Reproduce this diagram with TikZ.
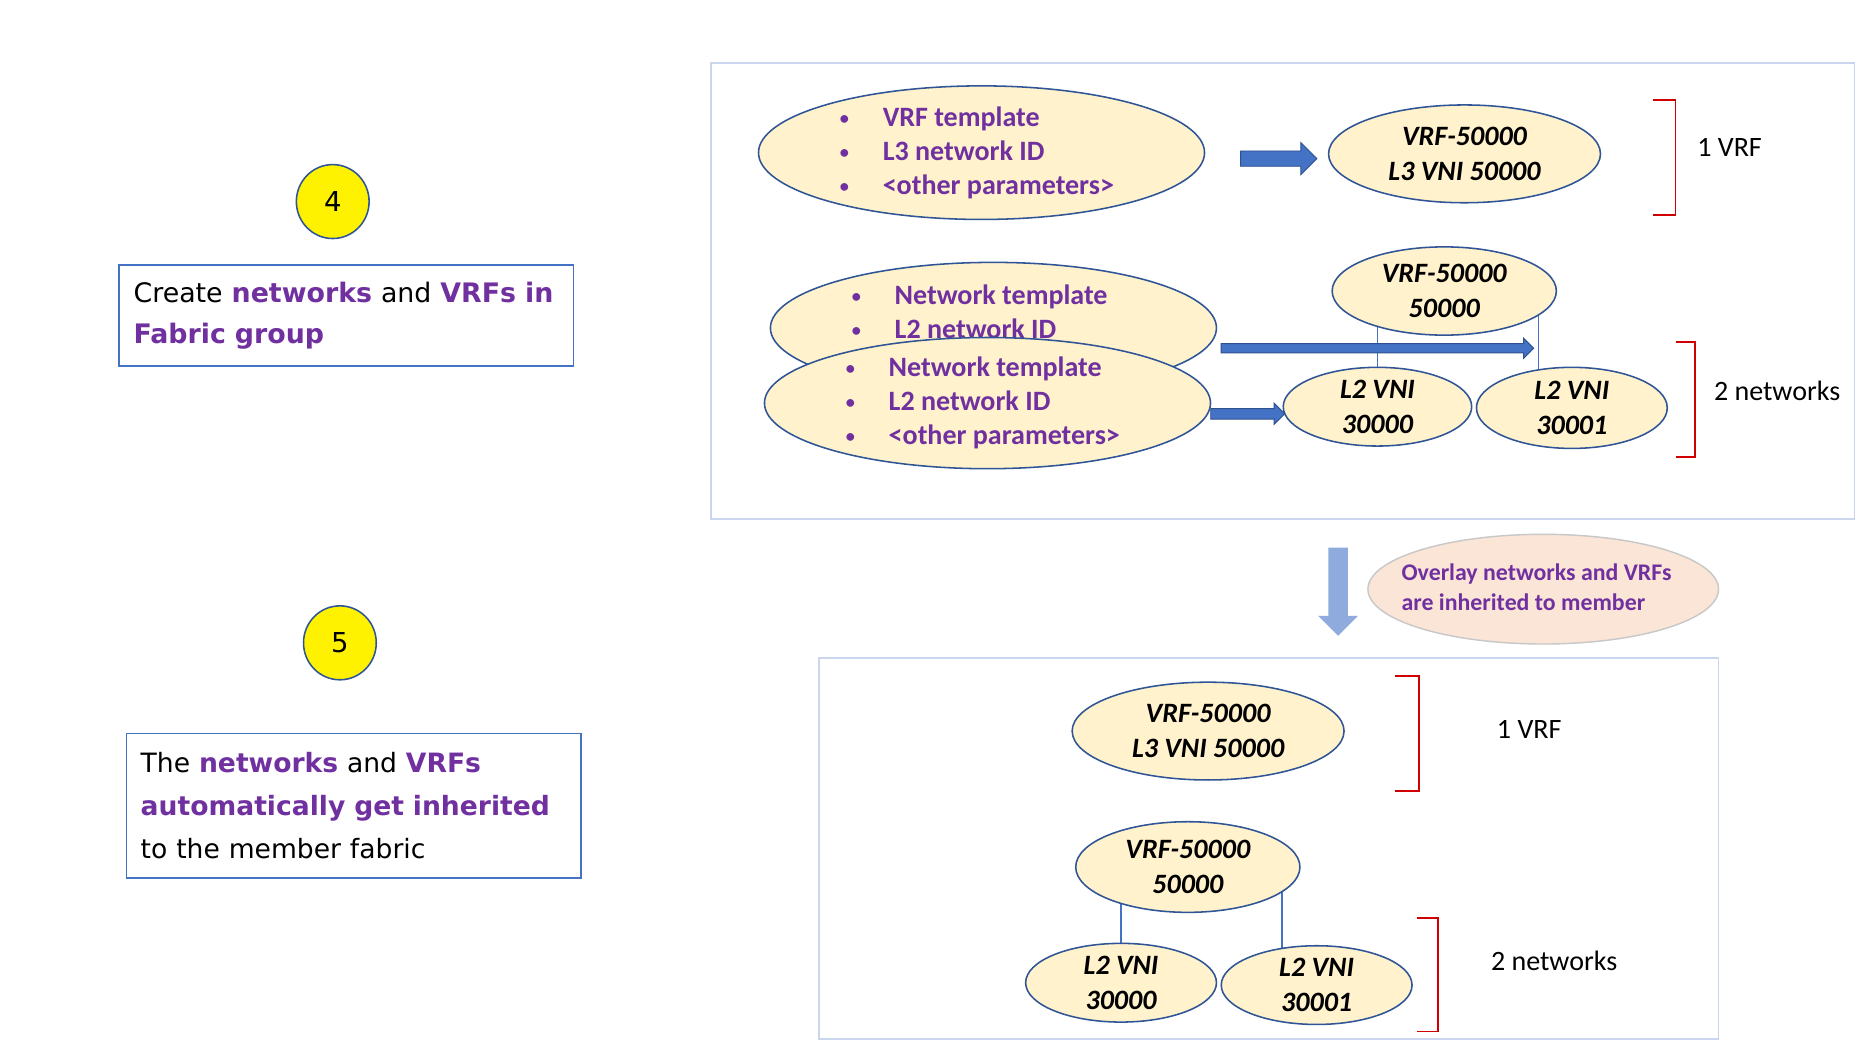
\documentclass[tikz,border=0pt]{standalone}
\usepackage{fontspec}
\setmainfont{Carlito}
\newfontfamily\verd{DejaVu Sans}
\usetikzlibrary{shapes.geometric,shapes.arrows,backgrounds}
\definecolor{purp}{HTML}{7030A0}
\definecolor{cream}{HTML}{FFF2CC}
\definecolor{edge}{HTML}{2F5597}
\definecolor{boxblue}{HTML}{4472C4}
\definecolor{frameblue}{HTML}{C9D6EE}
\definecolor{arrowedge}{HTML}{2F528F}
\definecolor{downblue}{HTML}{8FAADC}
\definecolor{pinkfill}{HTML}{FBE5D6}
\definecolor{pinkedge}{HTML}{C8C8C8}
\definecolor{brred}{HTML}{D00000}
\newcommand{\bul}{\makebox[38pt][l]{\hspace{2pt}\raisebox{1.5pt}{\scalebox{0.65}{\textbullet}}}}
\begin{document}
\begin{tikzpicture}[x=1pt,y=-1pt,
  oval/.style 2 args={ellipse, draw=edge, fill=cream, line width=1.3pt, inner sep=0pt, minimum width=#1, minimum height=#2},
  ovaltext/.style={align=center, inner sep=0pt, font=\bfseries\itshape\fontsize{23.5}{29}\selectfont},
  bullettext/.style={align=left, anchor=west, inner sep=0pt, text=purp, font=\bfseries\fontsize{23.5}{28.5}\selectfont},
  stepbox/.style={draw=boxblue, line width=1.4pt, align=left, inner xsep=12pt, inner ysep=0pt},
  stepnum/.style={ellipse, draw=edge, fill=yellow, line width=1.3pt, inner sep=0pt, minimum width=61pt, minimum height=62pt, font=\verd\fontsize{23}{27}\selectfont},
  frame/.style={draw=frameblue, line width=1.4pt, inner sep=0pt},
  blockarrow/.style={single arrow, fill=boxblue, draw=arrowedge, line width=0.8pt, inner xsep=0pt, single arrow head indent=0pt},
  link/.style={draw=boxblue, line width=1pt},
  bracket/.style={draw=brred, line width=1.4pt},
  note/.style={font=\fontsize{23.5}{28}\selectfont, inner sep=0pt}
]
\useasboundingbox (0,0) rectangle (1568,878.8);
\begin{scope}[on background layer]
\fill[white] (0,0) rectangle (1568,878.8);
\end{scope}

% ---- left column ----
\node[stepnum] (n4) at (279,169) {4};
\node[stepbox, minimum width=381pt, minimum height=85pt, text width=357pt,
      font=\verd\fontsize{22.5}{34}\selectfont] (t4) at (290.5,264.5)
  {Create \textcolor{purp}{\bfseries networks} and \textcolor{purp}{\bfseries VRFs in}\\
   \textcolor{purp}{\bfseries Fabric group}};
\node[stepnum] (n5) at (285,539) {5};
\node[stepbox, minimum width=381pt, minimum height=121pt, text width=357pt,
      font=\verd\fontsize{22.3}{36}\selectfont] (t5) at (296.5,675.5)
  {The \textcolor{purp}{\bfseries networks} and \textcolor{purp}{\bfseries VRFs}\\
   \textcolor{purp}{\bfseries automatically get inherited}\\
   to the member fabric};

% ---- fabric group frame ----
\node[frame, minimum width=959pt, minimum height=382pt] (fg) at (1075.5,244) {};

\node[oval={374pt}{112pt}] (vrft) at (823,128) {};
\node[bullettext] (vrftx) at (702,128)
  {\bul VRF template\\
   \bul L3 network ID\\
   \bul <other parameters>};
\node[oval={228pt}{82pt}] (vrf1) at (1228,129) {};
\node[ovaltext] (vrf1x) at (vrf1) {VRF-50000\\L3 VNI 50000};
\node[blockarrow, minimum height=64pt, inner ysep=6pt, single arrow head extend=7pt] (a1) at (1069,133) {};

\node[oval={374pt}{110pt}] (netb) at (833,275) {};
\node[bullettext] (netbx) at (712,261)
  {\bul Network template\\
   \bul L2 network ID};
\node[oval={374pt}{110pt}] (netf) at (828,338) {};
\node[bullettext] (netfx) at (707,338)
  {\bul Network template\\
   \bul L2 network ID\\
   \bul <other parameters>};

\node[oval={188pt}{74pt}] (vrf2) at (1211,244) {};
\node[ovaltext] (vrf2x) at (vrf2) {VRF-50000\\50000};
\node[oval={158pt}{66pt}] (l2a) at (1155,341) {};
\node[ovaltext] (l2ax) at (l2a) {L2 VNI\\30000};
\node[oval={160pt}{68pt}] (l2b) at (1318,342) {};
\node[ovaltext] (l2bx) at (l2b) {L2 VNI\\30001};
\begin{scope}[on background layer]
\draw[link] (l2a.center) -- (l2a.center |- vrf2.center);
\draw[link] ([xshift=-28pt]l2b.center) -- ([xshift=-28pt]l2b.center |- vrf2.center);
\end{scope}
\node[blockarrow, minimum height=262pt, inner ysep=3.5pt, single arrow head extend=4.5pt] (a2) at (1153,292) {};
\node[blockarrow, minimum height=62pt, inner ysep=4pt, single arrow head extend=4.5pt] (a3) at (1044,347) {};

\draw[bracket] (1386,84) -- (1405,84) -- (1405,180) -- (1386,180);
\node[note, anchor=west] (lab1) at (1423,124) {1 VRF};
\draw[bracket] (1405,287) -- (1421,287) -- (1421,383) -- (1405,383);
\node[note, anchor=west] (lab2) at (1437,328) {2 networks};

% ---- inheritance ----
\node[single arrow, rotate=-90, fill=downblue, draw=none, inner xsep=0pt, inner ysep=8pt,
      single arrow head indent=0pt, minimum height=74pt,
      single arrow head extend=8.5pt] (down) at (1122,492) {};
\node[ellipse, fill=pinkfill, draw=pinkedge, line width=1.2pt, inner sep=0pt,
      minimum width=294pt, minimum height=92pt] (pk) at (1294,494) {};
\node[align=left, anchor=west, inner sep=0pt, text=purp, font=\bfseries\fontsize{20}{25}\selectfont]
  (pkx) at (1175,492.5) {Overlay networks and VRFs\\are inherited to member};

% ---- member fabric frame ----
\node[frame, minimum width=754pt, minimum height=319pt] (mf) at (1064,711.5) {};
\node[oval={228pt}{82pt}] (vrf3) at (1013,613) {};
\node[ovaltext] (vrf3x) at (vrf3) {VRF-50000\\L3 VNI 50000};
\node[oval={188pt}{76pt}] (vrf4) at (996,727) {};
\node[ovaltext] (vrf4x) at (vrf4) {VRF-50000\\50000};
\node[oval={160pt}{66pt}] (l2c) at (940,824) {};
\node[ovaltext] (l2cx) at (l2c) {L2 VNI\\30000};
\node[oval={160pt}{66pt}] (l2d) at (1104,826) {};
\node[ovaltext] (l2dx) at (l2d) {L2 VNI\\30001};
\begin{scope}[on background layer]
\draw[link] (l2c.center) -- (l2c.center |- vrf4.center);
\draw[link] ([xshift=-29pt]l2d.center) -- ([xshift=-29pt]l2d.center |- vrf4.center);
\end{scope}
\draw[bracket] (1170,567) -- (1190,567) -- (1190,663) -- (1170,663);
\node[note, anchor=west] (lab3) at (1255,612) {1 VRF};
\draw[bracket] (1188,770) -- (1206,770) -- (1206,865) -- (1188,865);
\node[note, anchor=west] (lab4) at (1250,806) {2 networks};
\end{tikzpicture}
\end{document}
